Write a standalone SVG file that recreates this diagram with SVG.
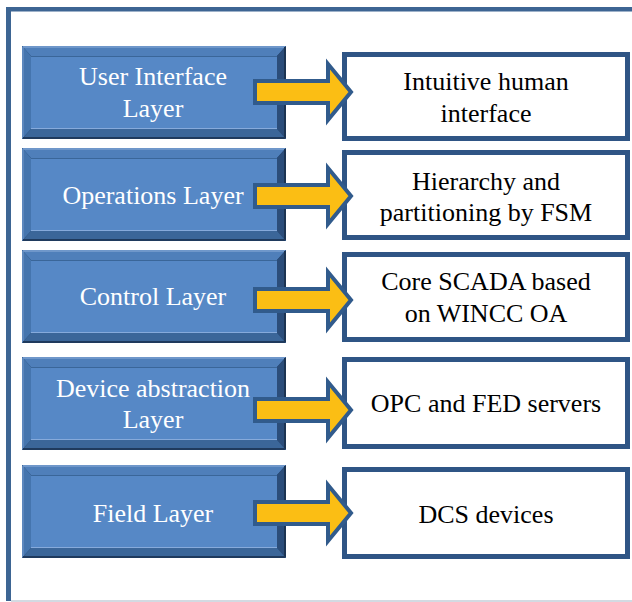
<svg xmlns="http://www.w3.org/2000/svg" xmlns:xlink="http://www.w3.org/1999/xlink" width="632" height="602" viewBox="0 0 632 602">
<style>
.lt{font-family:'Liberation Serif','Times New Roman',serif;font-size:26px;fill:#ffffff;text-anchor:middle}
.rt{font-family:'Liberation Serif','Times New Roman',serif;font-size:26px;fill:#000000;text-anchor:middle}
.wb{fill:#ffffff;stroke:#2f5585;stroke-width:5}
.arr{fill:#fbbe14;stroke:#315b8c;stroke-width:4;stroke-linejoin:miter}
</style>
<defs>
<g id="bevel">
<rect x="0" y="0" width="264" height="93" fill="#223f64"/>
<polygon points="0,0 264,0 255,10 9,10" fill="#4f7fba"/>
<polygon points="0,0 9,10 9,83 0,93" fill="#4575ae"/>
<polygon points="264,0 264,93 255,83 255,10" fill="#2b4d7a"/>
<polygon points="0,93 264,93 255,83 9,83" fill="#3b6699"/>
<rect x="9" y="10" width="246" height="73" fill="#5688c6"/>
<line x1="1" y1="1" x2="263" y2="1" stroke="#8fb0da" stroke-width="1.2"/>
<line x1="9" y1="10.5" x2="255" y2="10.5" stroke="#3a6699" stroke-width="1.2"/>
<line x1="9" y1="82.5" x2="255" y2="82.5" stroke="#86aadb" stroke-width="1.2"/>
<line x1="1" y1="1" x2="1" y2="92" stroke="#6d94c8" stroke-width="1.2"/>
<line x1="263" y1="1" x2="263" y2="92" stroke="#1c3452" stroke-width="2"/>
<line x1="1" y1="92" x2="263" y2="92" stroke="#1f3a5d" stroke-width="2"/>
</g>
<path id="arrow" class="arr" d="M255,-11 L328,-11 L328,-28 L351,0 L328,28 L328,11 L255,11 Z"/>
</defs>
<rect width="632" height="602" fill="#ffffff"/>
<g id="frame">
<rect x="6" y="7" width="626" height="4.5" fill="#3d6593"/>
<rect x="6" y="7" width="5" height="594" fill="#3d6593"/>
<line x1="11" y1="601" x2="632" y2="601" stroke="#c5ced8" stroke-width="1.5"/>
</g>
<g id="user-interface-layer">
<use xlink:href="#bevel" x="22" y="46"/>
<text class="lt" x="153" y="85">User Interface</text>
<text class="lt" x="153" y="117">Layer</text>
</g>
<g id="operations-layer">
<use xlink:href="#bevel" x="22" y="148"/>
<text class="lt" x="153" y="204">Operations Layer</text>
</g>
<g id="control-layer">
<use xlink:href="#bevel" x="22" y="250"/>
<text class="lt" x="153" y="305">Control Layer</text>
</g>
<g id="device-abstraction-layer">
<use xlink:href="#bevel" x="22" y="357"/>
<text class="lt" x="153" y="397">Device abstraction</text>
<text class="lt" x="153" y="428">Layer</text>
</g>
<g id="field-layer">
<use xlink:href="#bevel" x="22" y="465"/>
<text class="lt" x="153" y="522">Field Layer</text>
</g>
<g id="intuitive-human-interface">
<rect class="wb" x="344.5" y="54.5" width="283" height="84"/>
<text class="rt" x="486" y="90">Intuitive human</text>
<text class="rt" x="486" y="122">interface</text>
</g>
<g id="hierarchy-fsm">
<rect class="wb" x="344.5" y="152.5" width="283" height="85"/>
<text class="rt" x="486" y="190">Hierarchy and</text>
<text class="rt" x="486" y="221">partitioning by FSM</text>
</g>
<g id="core-scada">
<rect class="wb" x="344.5" y="254.5" width="283" height="85"/>
<text class="rt" x="486" y="290">Core SCADA based</text>
<text class="rt" x="486" y="322">on WINCC OA</text>
</g>
<g id="opc-fed-servers">
<rect class="wb" x="344.5" y="359.5" width="283" height="87"/>
<text class="rt" x="486" y="412">OPC and FED servers</text>
</g>
<g id="dcs-devices">
<rect class="wb" x="344.5" y="469.5" width="283" height="87"/>
<text class="rt" x="486" y="523">DCS devices</text>
</g>
<g id="connectors">
<use xlink:href="#arrow" y="92"/>
<use xlink:href="#arrow" y="196"/>
<use xlink:href="#arrow" y="300"/>
<use xlink:href="#arrow" y="410"/>
<use xlink:href="#arrow" y="513"/>
</g>
</svg>
